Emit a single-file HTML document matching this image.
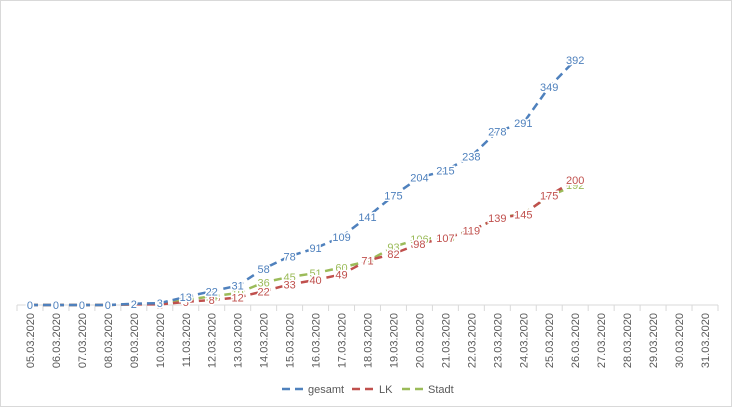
<!DOCTYPE html>
<html><head><meta charset="utf-8"><style>
body{margin:0;background:#fff}
svg{display:block;font-family:"Liberation Sans",Calibri,sans-serif}
</style></head><body>
<svg id="chart" width="733" height="416" viewBox="0 0 733 416">
<rect x="0.5" y="0.5" width="731" height="406" fill="#fff" stroke="#d9d9d9"/>
<g id="grid"></g><g id="series"></g><g id="labels"></g>
<g font-size="11" fill="#595959">
<g><line x1="282" y1="389" x2="305" y2="389" stroke="#4F81BD" stroke-width="2.5" stroke-dasharray="8,5"/><text x="308" y="393">gesamt</text></g>
<g><line x1="352" y1="389" x2="376" y2="389" stroke="#C0504D" stroke-width="2.5" stroke-dasharray="8,5"/><text x="379" y="393">LK</text></g>
<g><line x1="402" y1="389" x2="425" y2="389" stroke="#9BBB59" stroke-width="2.5" stroke-dasharray="8,5"/><text x="428" y="393">Stadt</text></g>
</g>
</svg>
<script>
const categories=["05.03.2020","06.03.2020","07.03.2020","08.03.2020","09.03.2020","10.03.2020","11.03.2020","12.03.2020","13.03.2020","14.03.2020","15.03.2020","16.03.2020","17.03.2020","18.03.2020","19.03.2020","20.03.2020","21.03.2020","22.03.2020","23.03.2020","24.03.2020","25.03.2020","26.03.2020","27.03.2020","28.03.2020","29.03.2020","30.03.2020","31.03.2020"];
const gesamt=[0,0,0,0,2,3,13,22,31,58,78,91,109,141,175,204,215,238,278,291,349,392];
const lk=[0,0,0,0,1,1,5,8,12,22,33,40,49,71,82,98,107,119,139,145,175,200];
const stadt=[0,0,0,0,1,2,8,14,19,36,45,51,60,70,93,106,108,119,139,146,174,192];
const NS="http://www.w3.org/2000/svg";
const left=17,right=718,base=305,top0=60,ymax=392;
const step=(right-left)/categories.length;
const x=i=>left+step*(i+0.5);
const y=v=>base-(v/ymax)*(base-top0);
function mk(t,a,p){const e=document.createElementNS(NS,t);for(const k in a)e.setAttribute(k,a[k]);p.appendChild(e);return e;}
const grid=document.getElementById('grid');
const ax=mk('line',{x1:left,y1:base,x2:right,y2:base,stroke:'#d9d9d9'},grid);


for(let i=0;i<=categories.length;i++){
  const tk=mk('line',{x1:left+step*i,y1:base,x2:left+step*i,y2:base+6,stroke:'#d9d9d9'},grid);
  
  
}
categories.forEach((c,i)=>{
  const t=mk('text',{x:0,y:0,transform:`translate(${x(i)+4},${base+8}) rotate(-90)`,'text-anchor':'end','font-size':'11',fill:'#595959'},grid);
  t.textContent=c;
  
  
});
const ser=document.getElementById('series'),lab=document.getElementById('labels');
[[stadt,'#9BBB59','stadt'],[lk,'#C0504D','lk'],[gesamt,'#4F81BD','gesamt']].forEach(([d,col,n])=>{
  const p=mk('polyline',{points:d.map((v,i)=>x(i)+','+y(v)).join(' '),fill:'none',stroke:col,'stroke-width':'2.5','stroke-dasharray':'8,5'},ser);
  
  
  d.forEach((v,i)=>{
    const t=mk('text',{x:x(i),y:y(v)+4,'text-anchor':'middle','font-size':'11',fill:col,stroke:'#fff','stroke-width':'3','paint-order':'stroke'},lab);
    t.textContent=v;
    
    
  });
});
</script>
</body></html>
